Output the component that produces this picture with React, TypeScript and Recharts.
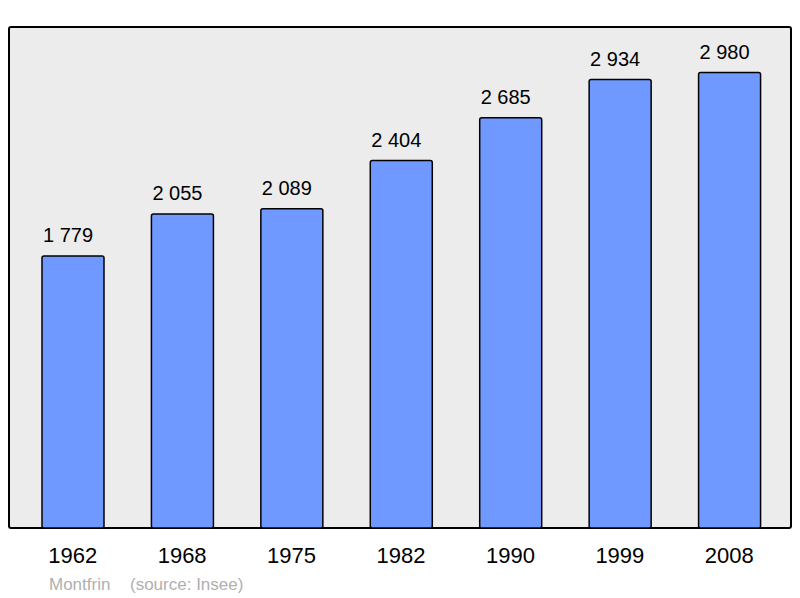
import React from 'react';
import { BarChart, Bar, XAxis, YAxis, LabelList } from 'recharts';

const years = ['1962', '1968', '1975', '1982', '1990', '1999', '2008'];
const population = [1779, 2055, 2089, 2404, 2685, 2934, 2980];
const footerName = 'Montfrin';
const footerSource = '(source: Insee)';

const data = years.map((y, i) => ({ year: y, pop: population[i] }));

const fmt = (v: any) => {
  const s = String(v);
  return s.replace(/\B(?=(\d{3})+(?!\d))/g, ' ');
};

const FONT = '"Liberation Sans", Arial, sans-serif';

export default function App() {
  return (
    <div style={{ position: 'absolute', left: 0, top: 0, width: 800, height: 598, background: '#fff', fontFamily: FONT }}>
      <div
        style={{
          position: 'absolute',
          left: 8,
          top: 26,
          width: 784,
          height: 503,
          boxSizing: 'border-box',
          border: '2px solid #000',
          borderRadius: 3,
          background: '#ececec',
        }}
      />
      <div style={{ position: 'absolute', left: 0, top: 0 }}>
        <BarChart
          width={800}
          height={598}
          data={data}
          margin={{ top: 27, right: 9, bottom: 0, left: 9 }}
          style={{ fontFamily: FONT }}
        >
          <YAxis hide domain={[0, 3278]} />
          <XAxis
            dataKey="year"
            axisLine={false}
            tickLine={false}
            height={70}
            padding={{ left: 9, right: 7 }}
            tickMargin={13}
            tick={{ fontSize: 22, fill: '#000', fontFamily: FONT }}
            interval={0}
          />
          <Bar dataKey="pop" fill="#7099ff" stroke="#000" strokeWidth={1.5} barSize={62} radius={2} isAnimationActive={false}>
            <LabelList dataKey="pop" position="top" offset={14} dx={-5} formatter={fmt} style={{ fontSize: 20, fill: '#000', fontFamily: FONT }} />
          </Bar>
        </BarChart>
      </div>
      <div style={{ position: 'absolute', left: 49, top: 575, fontSize: 17, color: '#b0b0b0', whiteSpace: 'pre', lineHeight: '20px' }}>
        {footerName}
        <span style={{ position: 'absolute', left: 81 }}>{footerSource}</span>
      </div>
    </div>
  );
}
